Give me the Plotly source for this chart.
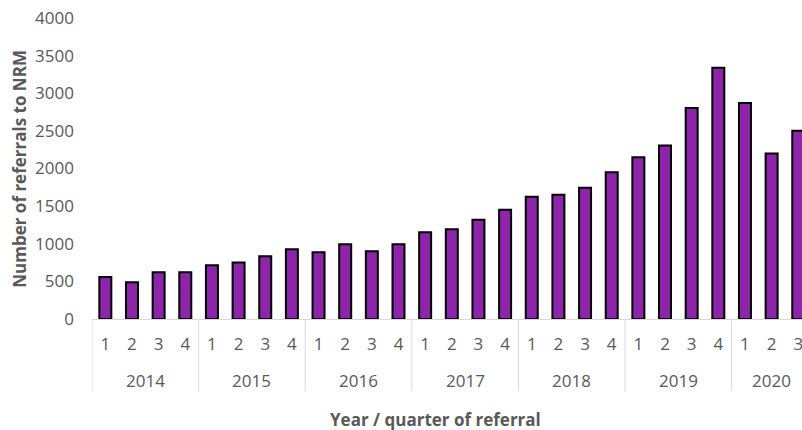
import plotly.graph_objects as go

years = ["2014", "2015", "2016", "2017", "2018", "2019", "2020"]
quarters_per_year = [4, 4, 4, 4, 4, 4, 3]
referrals = [
    559, 488, 620, 620,
    713, 752, 834, 927,
    887, 993, 900, 993,
    1152, 1192, 1320, 1452,
    1625, 1651, 1744, 1951,
    2150, 2305, 2804, 3338,
    2870, 2199, 2503,
]

year_labels = []
quarter_labels = []
for y, n in zip(years, quarters_per_year):
    for q in range(1, n + 1):
        year_labels.append(y)
        quarter_labels.append(str(q))
positions = list(range(len(referrals)))

grey = "#595959"
divider = "#D9D9D9"
font_family = "Open Sans, Liberation Sans, sans-serif"

FIG_W = 802
FIG_H = 430
PLOT_LEFT = 92
PLOT_RIGHT = 802
PLOT_TOP = 18
PLOT_BOTTOM = 319.5
PLOT_H = PLOT_BOTTOM - PLOT_TOP
PLOT_W = PLOT_RIGHT - PLOT_LEFT


def py(screen_y):
    return (PLOT_BOTTOM - screen_y) / PLOT_H


def px(screen_x):
    return (screen_x - PLOT_LEFT) / PLOT_W


fig = go.Figure(
    go.Bar(
        x=positions,
        y=referrals,
        width=0.45,
        marker=dict(color="#8E24AA", line=dict(color="#000000", width=2)),
    )
)

annotations = []
shapes = []
start = 0
boundaries = [-0.5]
for y, n in zip(years, quarters_per_year):
    center = start + (n - 1) / 2
    annotations.append(
        dict(
            text=y, x=center, xref="x", y=py(381), yref="paper",
            xanchor="center", yanchor="middle", showarrow=False,
            font=dict(size=17, color=grey),
        )
    )
    start += n
    boundaries.append(start - 0.5)

for b in boundaries[:-1]:
    shapes.append(
        dict(
            type="line", xref="x", yref="paper", x0=b, x1=b,
            y0=py(320), y1=py(392), line=dict(color=divider, width=1),
        )
    )

annotations.append(
    dict(
        text="<b>Year / quarter of referral</b>",
        xref="paper", yref="paper",
        x=px(435), y=py(420),
        xanchor="center", yanchor="middle", showarrow=False,
        font=dict(size=17, color=grey),
    )
)
annotations.append(
    dict(
        text="<b>Number of referrals to NRM</b>",
        xref="paper", yref="paper",
        x=px(20), y=py(169),
        xanchor="center", yanchor="middle", showarrow=False,
        textangle=-90,
        font=dict(size=17, color=grey),
    )
)

fig.update_layout(
    width=FIG_W,
    height=FIG_H,
    margin=dict(l=PLOT_LEFT, r=FIG_W - PLOT_RIGHT, t=PLOT_TOP, b=FIG_H - PLOT_BOTTOM),
    plot_bgcolor="white",
    paper_bgcolor="white",
    showlegend=False,
    font=dict(family=font_family, size=17, color=grey),
    xaxis=dict(
        range=[-0.5, 26.14],
        tickmode="array",
        tickvals=positions,
        ticktext=quarter_labels,
        showline=True,
        linecolor=divider,
        linewidth=1,
        showgrid=False,
        zeroline=False,
        ticks="",
        ticklabelstandoff=10,
        ticklabeloverflow="allow",
        tickfont=dict(size=17, color=grey),
        automargin=False,
    ),
    yaxis=dict(
        range=[0, 4000],
        dtick=500,
        showgrid=False,
        showline=False,
        zeroline=False,
        ticks="",
        ticklabelstandoff=17,
        ticklabeloverflow="allow",
        tickfont=dict(size=17, color=grey),
        automargin=False,
    ),
    annotations=annotations,
    shapes=shapes,
)

fig.write_html(
    "out.html",
    config={"displayModeBar": False},
    post_script="document.body.style.margin='0';document.body.style.overflow='hidden';",
)
